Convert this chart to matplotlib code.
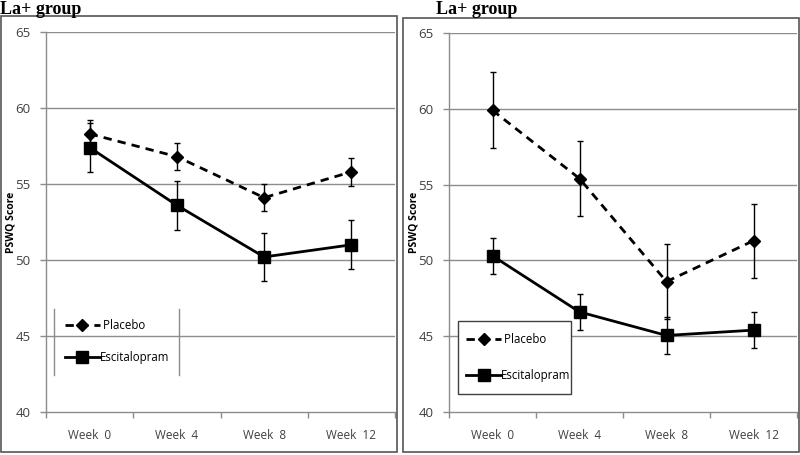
import matplotlib
matplotlib.use('Agg')
import matplotlib.pyplot as plt
from matplotlib.patches import Rectangle
from matplotlib.lines import Line2D
import numpy as np

weeks = ['Week  0', 'Week  4', 'Week  8', 'Week  12']
y_ticks = [40, 45, 50, 55, 60, 65]

# left panel
left_placebo = [58.3, 56.8, 54.1, 55.8]
left_placebo_err = [0.9, 0.9, 0.9, 0.9]
left_escit = [57.4, 53.6, 50.2, 51.0]
left_escit_err = [1.6, 1.6, 1.6, 1.6]

# right panel
right_placebo = [59.9, 55.4, 48.6, 51.3]
right_placebo_err = [2.5, 2.5, 2.45, 2.45]
right_escit = [50.3, 46.6, 45.05, 45.4]
right_escit_err = [1.2, 1.2, 1.2, 1.2]

titles = ['La+ group', 'La+ group']

grey = '#8c8c8c'
tick_font = 'Open Sans'

fig = plt.figure(figsize=(8, 4.55), dpi=100)


def fx(px):
    return px / 800


def fy(py):
    return 1 - py / 455


def panel(rect, placebo, placebo_err, escit, escit_err):
    ax = fig.add_axes(rect)
    x = np.arange(len(weeks))
    ax.set_xlim(-0.5, len(weeks) - 0.5)
    ax.set_ylim(40, 65)
    ax.set_yticks(y_ticks)
    ax.set_yticklabels([str(v) for v in y_ticks], fontsize=9.5, color='#404040',
                       family=tick_font)
    ax.set_xticks(x)
    ax.set_xticklabels(weeks, fontsize=8.5, color='#404040', family=tick_font)
    ax.set_xticks(np.arange(-0.5, len(weeks)), minor=True)
    ax.tick_params(axis='x', which='major', length=0, pad=12)
    ax.tick_params(axis='x', which='minor', length=4, color=grey, width=1)
    ax.tick_params(axis='y', length=4, color=grey, width=1, pad=7)
    for s in ['top', 'right']:
        ax.spines[s].set_visible(False)
    for s in ['left', 'bottom']:
        ax.spines[s].set_color(grey)
        ax.spines[s].set_linewidth(1)
    for v in y_ticks[1:]:
        ax.axhline(v, color=grey, lw=1, zorder=0)
    ax.set_ylabel('PSWQ Score', fontsize=7.5, fontweight='bold', family=tick_font)
    ax.yaxis.set_label_coords(-0.084, 0.5)
    ax.errorbar(x, placebo, yerr=placebo_err, fmt='none', ecolor='black',
                elinewidth=1, capsize=2.5, capthick=1, zorder=2)
    ax.errorbar(x, escit, yerr=escit_err, fmt='none', ecolor='black',
                elinewidth=1, capsize=2.5, capthick=1, zorder=2)
    ax.plot(x, placebo, color='black', lw=2, ls=(0, (3, 2.2)), marker='D',
            ms=6, label='Placebo', zorder=3)
    ax.plot(x, escit, color='black', lw=2, ls='-', marker='s', ms=8,
            label='Escitalopram', zorder=3)
    return ax


axL = panel([fx(46), fy(412), fx(349), (412 - 32) / 455],
            left_placebo, left_placebo_err, left_escit, left_escit_err)
axR = panel([fx(449), fy(412), fx(348), (412 - 33) / 455],
            right_placebo, right_placebo_err, right_escit, right_escit_err)

# legends
handles = [Line2D([], [], color='black', lw=2, ls=(0, (3, 2.2)), marker='D', ms=6),
           Line2D([], [], color='black', lw=2, marker='s', ms=8)]
labels = [' Placebo', 'Escitalopram']
legL = axL.legend(handles, labels, loc='center left', bbox_to_anchor=(0.025, 0.185),
                  frameon=False, handlelength=3.0, handletextpad=0.0,
                  labelspacing=1.7, prop={'family': tick_font, 'size': 8.3})
for xa in [0.023, 0.381]:
    axL.plot([xa, xa], [0.097, 0.271], color=grey, lw=1, transform=axL.transAxes,
             clip_on=False)

legR = axR.legend(handles, labels, loc='center left', bbox_to_anchor=(0.02, 0.143),
                  frameon=False, handlelength=3.0, handletextpad=0.0,
                  labelspacing=2.0, prop={'family': tick_font, 'size': 8.3})
axR.add_patch(Rectangle((0.026, 0.047), 0.325, 0.192, transform=axR.transAxes,
                        fill=True, facecolor='white', edgecolor='#404040', lw=1,
                        zorder=4))
legR.set_zorder(5)

# panel borders and titles
fig.patches.append(Rectangle((fx(1), fy(452)), fx(396), (452 - 16) / 455,
                             transform=fig.transFigure, fill=False,
                             edgecolor='#555555', lw=1.2))
fig.patches.append(Rectangle((fx(403), fy(452)), fx(396), (452 - 18) / 455,
                             transform=fig.transFigure, fill=False,
                             edgecolor='#555555', lw=1.2))
fig.text(fx(0), fy(9), titles[0], fontsize=13, fontweight='bold',
         family='Liberation Serif', va='center', ha='left')
fig.text(fx(436), fy(9), titles[1], fontsize=13, fontweight='bold',
         family='Liberation Serif', va='center', ha='left')

fig.savefig('out.png', dpi=100)
